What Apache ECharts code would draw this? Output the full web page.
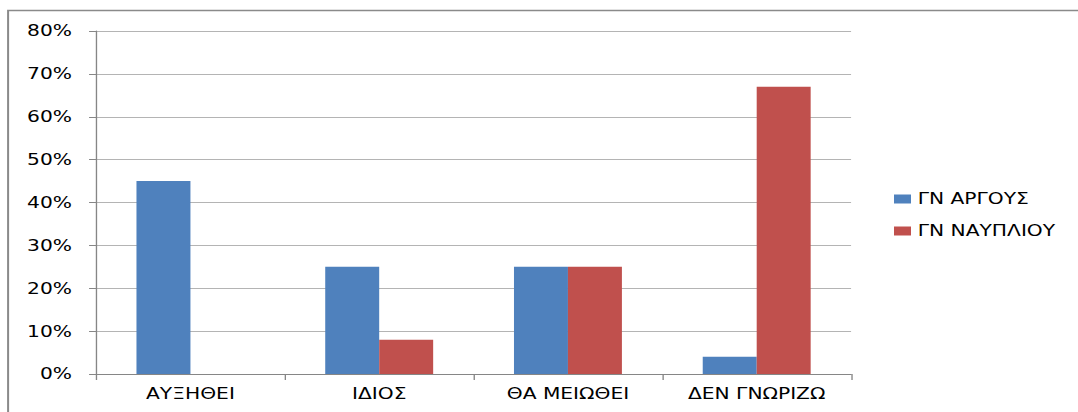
<!DOCTYPE html>
<html>
<head>
<meta charset="utf-8">
<script src="https://cdn.jsdelivr.net/npm/echarts@6/dist/echarts.min.js"></script>
<style>
  html, body { margin: 0; padding: 0; background: #fff; overflow: hidden; }
  /* The chart is laid out on a narrower canvas and widened horizontally */
  #chart { width: 799px; height: 412px; transform-origin: 0 0; transform: scaleX(1.3492); }
</style>
</head>
<body>
<div id="chart"></div>
<script>
// Categories and percentage values per municipality
const categories = ['ΑΥΞΗΘΕΙ', 'ΙΔΙΟΣ', 'ΘΑ ΜΕΙΩΘΕΙ', 'ΔΕΝ ΓΝΩΡΙΖΩ'];
const seriesNames = ['ΓΝ ΑΡΓΟΥΣ', 'ΓΝ ΝΑΥΠΛΙΟΥ'];
const argosValues = [45, 25, 25, 4];
const nafplioValues = [0, 8, 25, 67];
const yTicks = [0, 10, 20, 30, 40, 50, 60, 70, 80];

const font = 'DejaVu Sans, Verdana, sans-serif';
const chart = echarts.init(document.getElementById('chart'), null, { renderer: 'svg' });

chart.setOption({
  animation: false,
  backgroundColor: '#ffffff',
  graphic: [{
    type: 'rect',
    shape: { x: 6, y: 10.5, width: 900, height: 440 },
    style: { fill: 'none', stroke: '#8a8a8a', lineWidth: 1.5 },
    silent: true
  }],
  grid: { left: 71.2, top: 31, right: 168.2, bottom: 38 },
  legend: {
    orient: 'vertical',
    left: 657.6,
    top: 186,
    itemWidth: 12.6,
    itemHeight: 9,
    itemGap: 16,
    icon: 'rect',
    textStyle: { fontFamily: font, fontSize: 15, lineHeight: 16, color: '#000' },
    data: seriesNames
  },
  xAxis: {
    type: 'category',
    data: categories,
    axisLine: { lineStyle: { color: '#868686', width: 1 } },
    axisTick: { show: true, length: 6, inside: false, alignWithLabel: false, lineStyle: { color: '#868686' } },
    axisLabel: { fontFamily: font, fontSize: 15, color: '#000', margin: 12 },
    splitLine: { show: false }
  },
  yAxis: {
    type: 'value',
    min: yTicks[0],
    max: yTicks[yTicks.length - 1],
    interval: 10,
    axisLine: { show: true, lineStyle: { color: '#868686', width: 1 } },
    axisTick: { show: true, length: 5.2, lineStyle: { color: '#868686' } },
    axisLabel: { fontFamily: font, fontSize: 15, color: '#000', margin: 17.8, formatter: '{value}%' },
    splitLine: { show: true, lineStyle: { color: '#b4b4b4', width: 1 } }
  },
  series: [
    {
      name: seriesNames[0],
      type: 'bar',
      data: argosValues,
      barWidth: 40,
      barGap: '0%',
      itemStyle: { color: '#4F81BD' }
    },
    {
      name: seriesNames[1],
      type: 'bar',
      data: nafplioValues,
      barWidth: 40,
      barGap: '0%',
      itemStyle: { color: '#C0504D' }
    }
  ]
});
</script>
</body>
</html>
